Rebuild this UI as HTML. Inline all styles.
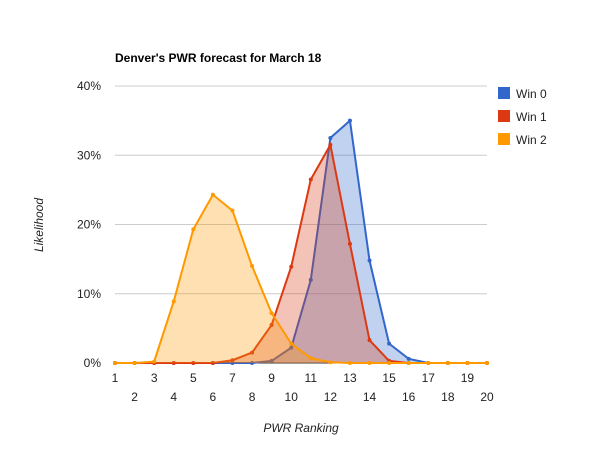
<!DOCTYPE html>
<html><head><meta charset="utf-8"><style>
body{margin:0;background:#fff}
text{font-family:"Liberation Sans",Arial,sans-serif}
</style></head><body>
<svg id="c" width="600" height="450" xmlns="http://www.w3.org/2000/svg"></svg>
<script>
const categories=[1,2,3,4,5,6,7,8,9,10,11,12,13,14,15,16,17,18,19,20];
const seriesNames=["Win 0","Win 1","Win 2"];
const win0=[0,0,0,0,0,0,0,0,0.3,2.2,12,32.5,35,14.8,2.8,0.6,0,0,0,0];
const win1=[0,0,0,0,0,0,0.4,1.5,5.5,13.9,26.5,31.5,17.2,3.3,0.3,0,0,0,0,0];
const win2=[0,0,0.2,8.9,19.3,24.3,22,14,7.2,2.8,0.7,0.1,0,0,0,0,0,0,0,0];
const yTicks=[0,10,20,30,40];
const colors=["#3366cc","#dc3912","#ff9900"];
const svg=document.getElementById('c');
const NS="http://www.w3.org/2000/svg";
const L=115,R=487,T=86,B=363;
const xs=i=>L+(R-L)*i/(categories.length-1);
const ys=v=>B-(B-T)*v/40;
function mk(tag,attrs,name,parent){const e=document.createElementNS(NS,tag);for(const k in attrs)e.setAttribute(k,attrs[k]);


(parent||svg).appendChild(e);return e;}
mk('text',{x:115,y:62,'font-size':12,'font-weight':'bold',fill:'#000'},'chart-title').textContent="Denver's PWR forecast for March 18";
yTicks.forEach(t=>{mk('line',{x1:L,x2:R,y1:ys(t),y2:ys(t),stroke:t===0?'#333':'#ccc','stroke-width':1},'gridline');
mk('text',{x:L-14,y:ys(t)+4,'font-size':12,fill:'#222','text-anchor':'end'},'y-tick-label').textContent=t+'%';});
categories.forEach((c,i)=>{mk('text',{x:xs(i),y:i%2===0?382:401,'font-size':12,fill:'#222','text-anchor':'middle'},'x-tick-label').textContent=c;});
mk('text',{x:301,y:432,'font-size':12,'font-style':'italic',fill:'#222','text-anchor':'middle'},'x-axis-title').textContent='PWR Ranking';
mk('text',{x:43,y:225,'font-size':12,'font-style':'italic',fill:'#222','text-anchor':'middle',transform:'rotate(-90 43 225)'},'y-axis-title').textContent='Likelihood';
[win0,win1,win2].forEach((s,k)=>{
 const g=mk('g',{},'series-'+seriesNames[k].toLowerCase().replace(' ','-'));
 const pts=s.map((v,i)=>xs(i)+','+ys(v)).join(' ');
 mk('polygon',{points:xs(0)+','+ys(0)+' '+pts+' '+xs(s.length-1)+','+ys(0),fill:colors[k],'fill-opacity':0.3},'area',g);
 mk('polyline',{points:pts,fill:'none',stroke:colors[k],'stroke-width':2},'line',g);
 s.forEach((v,i)=>mk('circle',{cx:xs(i),cy:ys(v),r:2,fill:colors[k]},'point',g));
});
seriesNames.forEach((n,k)=>{const y=87+k*23;
 mk('rect',{x:498,y:y,width:12,height:12,fill:colors[k]},'legend-swatch');
 mk('text',{x:516,y:y+11,'font-size':12,fill:'#222'},'legend-entry').textContent=n;});
</script>
</body></html>
